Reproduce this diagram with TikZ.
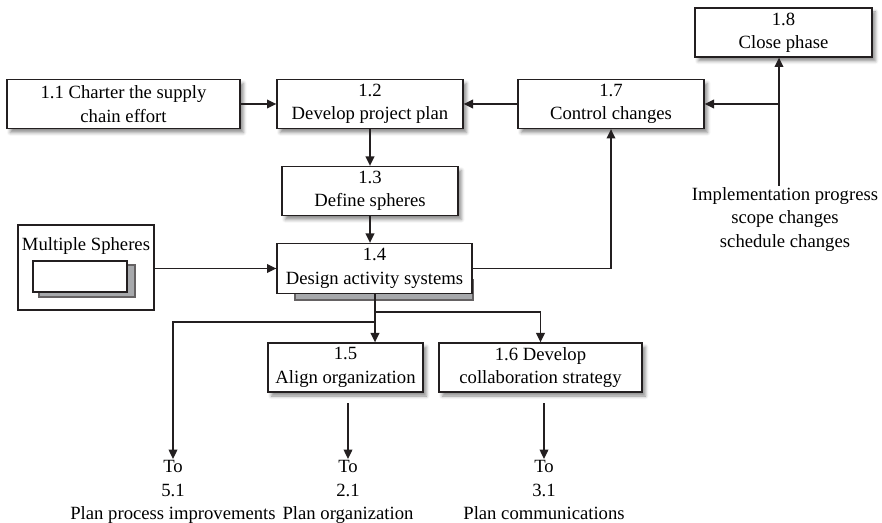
\documentclass[tikz,border=0pt]{standalone}
\usepackage{fontspec}
\setmainfont{Liberation Serif}
\usetikzlibrary{arrows.meta,positioning,shadows.blur}
\definecolor{ink}{HTML}{231F20}
\definecolor{stack}{HTML}{A7A9AC}
\tikzset{procbox/.style={draw=ink,fill=white,line width=1pt,align=center,inner sep=2pt,minimum height=36.75pt,font=\fontsize{14}{17.5}\selectfont,blur shadow={shadow xshift=2.5pt,shadow yshift=-3pt,shadow blur radius=2.5pt,shadow opacity=45}},plainbox/.style={draw=ink,fill=white,line width=1pt},stackbox/.style={draw=ink!70,fill=stack,line width=.8pt},flow/.style={draw=ink,line width=1pt,-{Triangle[length=7pt,width=6.5pt]}},link/.style={draw=ink,line width=1pt},outtext/.style={align=center,font=\fontsize{14}{17.5}\selectfont,inner sep=1pt}}

\begin{document}
\begin{tikzpicture}[x=.75pt,y=-.75pt]
\useasboundingbox (0,0) rectangle (882,523);
% stacked sheet behind 1.4
\filldraw[stackbox] (295,280) rectangle (473,300);
% process boxes
\node[procbox,minimum width=174.75pt] (n11) at (123.5,104) {1.1 Charter the supply\\chain effort};
\node[procbox,minimum width=139.5pt] (n12) at (370,104) {1.2\\Develop project plan};
\node[procbox,minimum width=132pt] (n13) at (370,191) {1.3\\Define spheres};
\node[plainbox,align=center,inner sep=2pt,minimum width=146.25pt,minimum height=37.5pt,font=\fontsize{14}{17.5}\selectfont] (n14) at (374.5,268.5) {1.4\\Design activity systems};
\node[procbox,minimum width=116.25pt] (n15) at (345.5,367.5) {1.5\\Align organization};
\node[procbox,minimum width=152.25pt] (n16) at (540.5,367.5) {1.6 Develop\\collaboration strategy};
\node[procbox,minimum width=139.5pt] (n17) at (611,104) {1.7\\Control changes};
\node[procbox,minimum width=132.75pt] (n18) at (783.5,32.5) {1.8\\Close phase};
% multiple spheres
\node[plainbox,minimum width=102pt,minimum height=63.75pt] (msph) at (86,267.5) {};
\node[outtext] (mtxt) at (86,246) {Multiple Spheres};
\filldraw[stackbox] (39,265) rectangle (135,297);
\filldraw[plainbox] (33,261) rectangle (127,292);
% inputs and outputs
\node[outtext,anchor=north] (impl) at (785,186) {Implementation progress\\scope changes\\schedule changes};
\node[outtext,anchor=north] (to51) at (173,459) {To\\5.1\\Plan process improvements};
\node[outtext,anchor=north] (to21) at (348,459) {To\\2.1\\Plan organization};
\node[outtext,anchor=north] (to31) at (544,459) {To\\3.1\\Plan communications};
\coordinate (jn) at (779,104);
\coordinate (sp) at (375,312);
\coordinate (sl) at (375,322);
% connectors
\draw[flow] (n11) -- (n12);
\draw[flow] (n17) -- (n12);
\draw[flow] (n12) -- (n13);
\draw[flow] (n13.south) -- (n13.south |- n14.north);
\draw[flow] (msph.east |- n14.west) -- (n14.west);
\draw[flow] (n14.east) -| (n17.south);
\draw[link] (impl.north -| jn) -- (jn);
\draw[flow] (jn) -- (n18.south -| jn);
\draw[flow] (jn) -- (n17.east);
\draw[link] (n14.south -| sp) -- (sl);
\draw[flow] (sp) -- (n15.north -| sp);
\draw[flow] (sp) -| (n16.north);
\draw[flow] (sl) -| (to51.north);
\draw[flow,shorten <=8pt] (n15.south -| to21.north) -- (to21.north);
\draw[flow,shorten <=8pt] (n16.south -| to31.north) -- (to31.north);
\end{tikzpicture}
\end{document}
